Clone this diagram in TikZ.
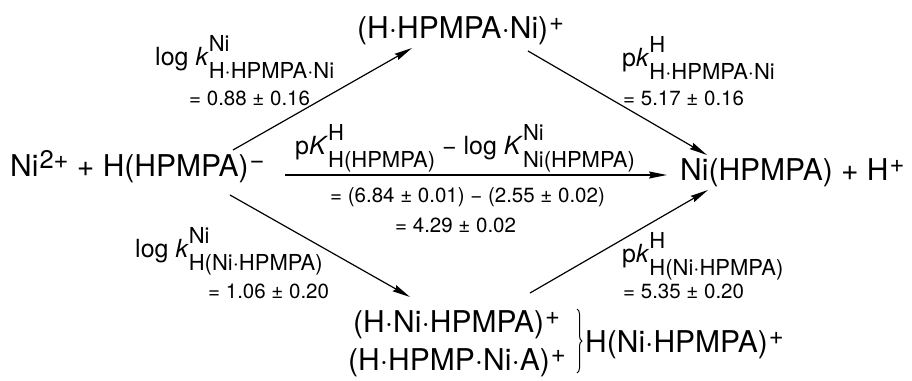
\documentclass[tikz,border=0pt]{standalone}
\usepackage{fontspec}
\setmainfont{TeX Gyre Heros}
\usetikzlibrary{arrows.meta,decorations.pathreplacing}
\newcommand\scr{\fontsize{22}{24}\selectfont}
\newcommand\spc[1]{\kern1pt\raisebox{7.5pt}{\fontsize{25.5}{27}\selectfont #1}}
\newcommand\ks[2]{\rlap{\raisebox{14pt}{\scr #1}}\raisebox{-13pt}{\scr #2}}
\begin{document}
\begin{tikzpicture}[x=1pt,y=-1pt,
  species/.style={inner sep=0pt,anchor=base west,font=\fontsize{30}{36}\selectfont},
  lab/.style={inner sep=0pt,anchor=base west,font=\fontsize{25}{30}\selectfont},
  val/.style={inner sep=0pt,anchor=base west,font=\fontsize{20.5}{24}\selectfont},
  rxn/.style={line width=1.2pt,-{Stealth[length=18pt,width=7pt,inset=2pt]}},
  bracestyle/.style={line width=1pt,decorate,decoration={brace,amplitude=5pt}}]
\useasboundingbox (0,0) rectangle (912,380);
% species
\node[species] (L) at (10,176) {Ni\spc{2+} + H(HPMPA)\spc{−}};
\node[species] (R) at (680,180) {Ni(HPMPA) + H\spc{+}};
\node[species] (T) at (357,38) {(H·HPMPA·Ni)\spc{+}};
\node[species] (B1) at (353,332) {(H·Ni·HPMPA)\spc{+}};
\node[species] (B2) at (348,370) {(H·HPMP·Ni·A)\spc{+}};
\node[species] (B) at (585,352) {H(Ni·HPMPA)\spc{+}};
% brace
\coordinate (br1) at (577,309);
\coordinate (br2) at (577,373);
\draw[bracestyle] (br1) -- (br2);
% arrow ends
\coordinate (a1s) at (233,150); \coordinate (a1e) at (412,48);
\coordinate (a2s) at (528,51);  \coordinate (a2e) at (707,155);
\coordinate (a3s) at (285,175); \coordinate (a3e) at (667,175);
\coordinate (a4s) at (230,195); \coordinate (a4e) at (410,297);
\coordinate (a5s) at (530,293); \coordinate (a5e) at (708,190);
\draw[rxn] (a1s) -- (a1e);
\draw[rxn] (a2s) -- (a2e);
\draw[rxn] (a3s) -- (a3e);
\draw[rxn] (a4s) -- (a4e);
\draw[rxn] (a5s) -- (a5e);
% labels
\node[lab] (l1) at (155,65) {log \textit{k}\ks{Ni}{H·HPMPA·Ni}};
\node[val] (v1) at (189,105) {= 0.88 ± 0.16};
\node[lab] (l2) at (622,66) {p\textit{k}\ks{H}{H·HPMPA·Ni}};
\node[val] (v2) at (623,105) {= 5.17 ± 0.16};
\node[lab] (l3) at (295,154) {p\textit{K}\ks{H}{H(HPMPA)} − log \textit{K}\ks{Ni}{Ni(HPMPA)}};
\node[val] (v3) at (330,202) {= (6.84 ± 0.01) − (2.55 ± 0.02)};
\node[val] (v4) at (395,232) {= 4.29 ± 0.02};
\node[lab] (l4) at (135,257) {log \textit{k}\ks{Ni}{H(Ni·HPMPA)}};
\node[val] (v5) at (208,298) {= 1.06 ± 0.20};
\node[lab] (l5) at (622,262) {p\textit{k}\ks{H}{H(Ni·HPMPA)}};
\node[val] (v6) at (623,298) {= 5.35 ± 0.20};
\end{tikzpicture}
\end{document}
